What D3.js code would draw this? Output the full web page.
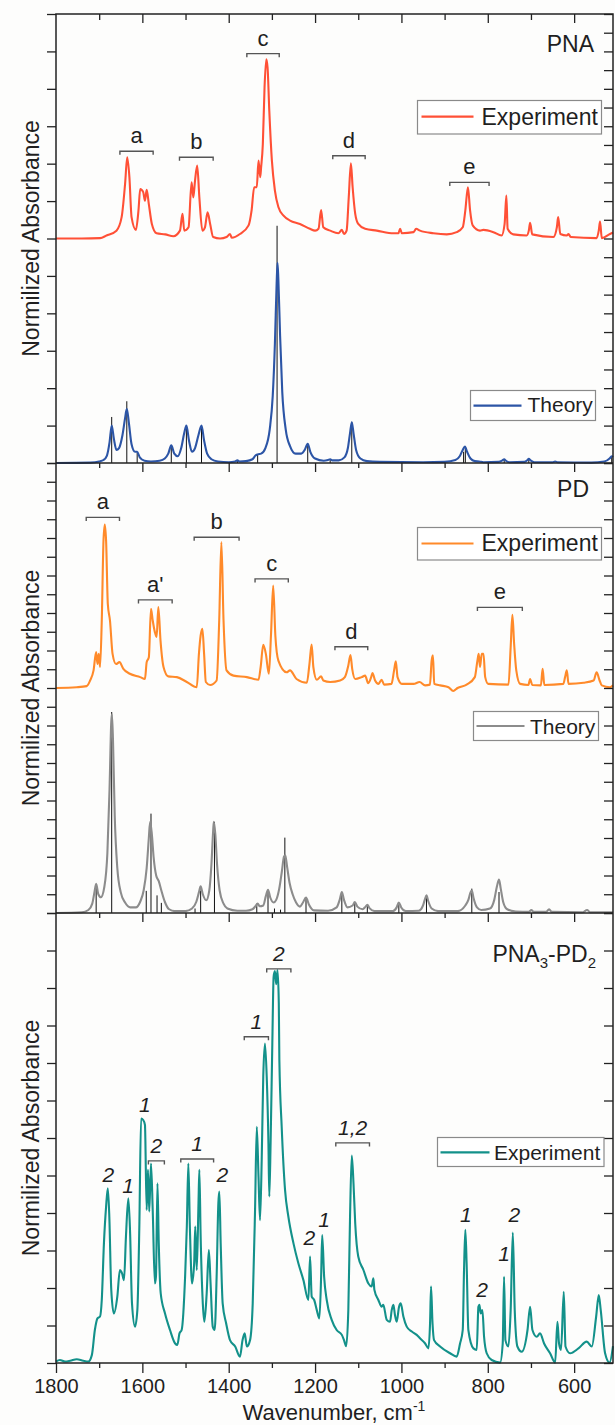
<!DOCTYPE html>
<html><head><meta charset="utf-8">
<script src="https://cdn.jsdelivr.net/npm/d3@7"></script>
<style>
body{margin:0;background:#fdfdfc;}
svg{display:block;}
text{font-family:"Liberation Sans",Arial,sans-serif;fill:#1f1f1f;}
</style>
</head><body>
<svg id="chart" width="615" height="1425"></svg>
<script>
// ---------- DATA (wavenumber cm-1, normalized absorbance) ----------
const xMajorTicks = [1800,1600,1400,1200,1000,800,600];
const xMinorTicks = [1700,1500,1300,1100,900,700];

const pnaExp = [[1800,0],[1740,0],[1698,0.01],[1683,0.08],[1660,0.21],[1648,0.57],[1640,1.46],[1635,2.17],[1630,1.64],[1625,0.57],[1615,0.23],[1609,0.75],[1605,1.32],[1598,1.24],[1594,1.01],[1590,1.30],[1585,0.92],[1578,0.39],[1567,0.14],[1547,0.11],[1528,0.06],[1513,0.21],[1507,0.66],[1503,0.21],[1493,0.30],[1486,1.50],[1482,1.10],[1478,1.55],[1473,1.95],[1468,1.10],[1461,0.21],[1455,0.30],[1449,0.70],[1443,0.39],[1436,0.04],[1420,0],[1405,0.04],[1397,0.12],[1393,0.02],[1374,0.12],[1354,0.35],[1347,0.75],[1341,1.37],[1335,1.37],[1331,2.08],[1327,1.64],[1325,1.90],[1321,2.52],[1317,4.04],[1313,4.79],[1310,4.57],[1306,3.41],[1300,2.08],[1293,1.28],[1285,0.84],[1273,0.61],[1258,0.48],[1235,0.39],[1212,0.26],[1200,0.21],[1192,0.26],[1186,0.76],[1181,0.30],[1165,0.21],[1146,0.14],[1138,0.23],[1133,0.12],[1127,0.21],[1122,1.1],[1117,2.01],[1113,1.37],[1107,0.66],[1100,0.39],[1084,0.26],[1057,0.21],[1018,0.14],[1007,0.14],[1003,0.26],[999,0.14],[972,0.17],[966,0.26],[957,0.21],[926,0.14],[895,0.11],[872,0.17],[858,0.30],[852,0.75],[846,1.37],[841,0.75],[835,0.35],[818,0.21],[810,0.23],[787,0.17],[768,0.08],[761,0.39],[757,1.15],[754,0.26],[741,0.11],[710,0.08],[705,0.21],[702,0.42],[697,0.11],[648,0.04],[640,0.30],[637,0.57],[632,0.12],[617,0.08],[613,0.12],[608,0.04],[548,0.01],[543,0.21],[540,0.45],[536,0.01],[517,0.12],[510,0.16]];

const pnaTheory = [[1800,0],[1720,0.01],[1700,0.04],[1690,0.08],[1682,0.2],[1676,0.55],[1671,1.0],[1666,0.65],[1660,0.35],[1654,0.4],[1646,0.75],[1640,1.2],[1636,1.45],[1631,1.05],[1625,0.5],[1617,0.3],[1612,0.3],[1606,0.15],[1595,0.06],[1580,0.04],[1560,0.06],[1548,0.12],[1540,0.25],[1533,0.47],[1526,0.25],[1518,0.18],[1510,0.4],[1503,0.8],[1498,1.0],[1492,0.6],[1485,0.3],[1478,0.4],[1470,0.75],[1463,1.0],[1457,0.6],[1450,0.25],[1440,0.1],[1425,0.04],[1400,0.02],[1385,0.04],[1380,0.07],[1375,0.04],[1360,0.05],[1345,0.1],[1338,0.2],[1333,0.23],[1325,0.25],[1315,0.4],[1305,0.9],[1298,1.8],[1293,3.2],[1289,4.8],[1287,5.35],[1285,4.9],[1281,3.4],[1276,1.9],[1268,0.9],[1258,0.45],[1245,0.25],[1232,0.25],[1224,0.35],[1217,0.51],[1211,0.3],[1200,0.12],[1180,0.06],[1170,0.08],[1165,0.1],[1160,0.07],[1145,0.07],[1132,0.15],[1124,0.4],[1119,0.8],[1115,1.09],[1111,0.8],[1105,0.35],[1095,0.12],[1080,0.05],[1050,0.03],[950,0.02],[900,0.03],[875,0.08],[865,0.18],[858,0.35],[853,0.44],[848,0.3],[840,0.12],[830,0.05],[820,0.04],[810,0.02],[775,0.03],[766,0.07],[762,0.1],[758,0.06],[750,0.02],[715,0.03],[708,0.08],[705,0.11],[701,0.07],[692,0.02],[650,0.02],[644,0.04],[638,0.02],[560,0.01],[530,0.04],[518,0.12],[513,0.18],[510,0.16]];

const pnaSticks = [[1671,1.23],[1636,1.65],[1612,0.27],[1533,0.47],[1498,1.0],[1463,0.96],[1380,0.07],[1333,0.23],[1288,6.34],[1217,0.51],[1165,0.1],[1115,1.1],[856,0.3],[852,0.44],[762,0.1],[705,0.11],[513,0.18]];

const pdExp = [[1800,0],[1752,0.02],[1729,0.05],[1721,0.2],[1713,0.47],[1707,0.96],[1704,0.64],[1701,0.91],[1698,0.56],[1694,1.8],[1690,3.93],[1687,4.36],[1684,3.93],[1680,2.24],[1675,1.8],[1669,0.91],[1661,0.64],[1653,0.69],[1644,0.51],[1629,0.38],[1605,0.29],[1594,0.24],[1590,0.69],[1585,0.82],[1580,2.11],[1576,1.8],[1571,1.49],[1567,1.36],[1563,2.16],[1558,1.27],[1551,0.56],[1540,0.31],[1520,0.29],[1497,0.16],[1474,0.02],[1469,0.91],[1465,1.4],[1461,1.58],[1457,0.91],[1453,0.16],[1443,0.08],[1428,0.2],[1422,1.8],[1417,3.89],[1412,1.8],[1405,0.47],[1389,0.33],[1358,0.29],[1331,0.22],[1326,0.56],[1320,1.15],[1314,0.91],[1307,0.38],[1302,1.44],[1297,2.73],[1292,1.4],[1285,0.73],[1266,0.42],[1258,0.47],[1243,0.24],[1219,0.14],[1213,0.64],[1208,1.16],[1204,0.56],[1196,0.22],[1186,0.31],[1181,0.2],[1165,0.16],[1142,0.2],[1131,0.29],[1123,0.6],[1118,0.88],[1114,0.51],[1107,0.24],[1092,0.29],[1084,0.33],[1077,0.13],[1070,0.29],[1067,0.4],[1061,0.2],[1053,0.11],[1046,0.22],[1040,0.09],[1023,0.11],[1017,0.47],[1013,0.71],[1009,0.29],[999,0.11],[972,0.11],[958,0.16],[945,0.07],[934,0.09],[930,0.73],[927,0.87],[924,0.11],[910,0.07],[891,0.02],[880,-0.08],[870,0],[849,0.09],[830,0.29],[824,0.73],[821,0.91],[818,0.56],[814,0.91],[810,0.91],[806,0.29],[799,0.11],[752,0.09],[747,1.09],[743,1.95],[739,1.18],[734,0.47],[725,0.11],[706,0.08],[702,0.24],[697,0.08],[677,0.07],[673,0.51],[669,0.08],[625,0.11],[621,0.29],[617,0.47],[613,0.11],[578,0.14],[555,0.2],[548,0.42],[541,0.2],[536,0.07],[517,0.02],[510,0.07]];

const pdTheory = [[1800,0],[1740,0.02],[1725,0.08],[1716,0.25],[1711,0.55],[1707,0.78],[1702,0.5],[1696,0.42],[1688,0.7],[1681,1.6],[1676,3.3],[1672,5.1],[1670.5,5.3],[1668,4.6],[1664,2.6],[1658,1.2],[1650,0.55],[1640,0.28],[1628,0.15],[1615,0.15],[1605,0.3],[1597,0.6],[1590,1.2],[1585,2.0],[1582,2.43],[1578,2.1],[1574,1.5],[1568,1.0],[1562,0.85],[1556,0.6],[1548,0.3],[1538,0.1],[1525,0.05],[1500,0.05],[1485,0.12],[1475,0.3],[1469,0.55],[1465,0.71],[1460,0.5],[1452,0.34],[1445,0.6],[1440,1.3],[1436,2.2],[1434.5,2.43],[1431,2.1],[1427,1.3],[1421,0.6],[1412,0.25],[1403,0.12],[1380,0.06],[1360,0.06],[1345,0.1],[1338,0.18],[1333,0.25],[1328,0.18],[1320,0.2],[1314,0.45],[1309,0.62],[1304,0.42],[1296,0.28],[1290,0.35],[1283,0.65],[1277,1.1],[1272,1.5],[1269,1.54],[1265,1.25],[1259,0.8],[1252,0.5],[1244,0.28],[1235,0.17],[1228,0.28],[1221,0.41],[1214,0.22],[1203,0.07],[1170,0.06],[1150,0.15],[1143,0.35],[1138,0.56],[1133,0.35],[1125,0.15],[1113,0.2],[1108,0.29],[1102,0.17],[1090,0.1],[1083,0.17],[1079,0.22],[1074,0.13],[1062,0.05],[1020,0.05],[1011,0.15],[1006,0.28],[1000,0.14],[990,0.05],[960,0.06],[950,0.2],[946,0.35],[942,0.47],[938,0.32],[930,0.12],[915,0.05],[870,0.05],[852,0.2],[845,0.35],[840,0.55],[837,0.6],[833,0.4],[825,0.15],[815,0.08],[795,0.12],[785,0.35],[779,0.7],[774,0.89],[770,0.65],[764,0.28],[755,0.1],[735,0.04],[705,0.03],[699,0.08],[694,0.03],[665,0.03],[658,0.1],[652,0.03],[580,0.02],[570,0.08],[563,0.02],[510,0.02]];

const pdSticks = [[1707,0.69],[1671,5.36],[1591,0.59],[1580,2.65],[1566,0.47],[1556,0.27],[1478,0.12],[1465,0.6],[1433,2.43],[1335,0.25],[1309,0.6],[1294,0.12],[1280,0.09],[1270,2.01],[1221,0.38],[1138,0.52],[1108,0.29],[1079,0.2],[1006,0.23],[942,0.42],[837,0.65],[774,0.56]];

const mixExp = [[1800,0.04],[1791,0.08],[1779,0.04],[1767,0.06],[1752,0.1],[1737,0.06],[1725,0.04],[1717,0.21],[1710,0.88],[1704,1.19],[1698,1.24],[1694,1.68],[1689,3.19],[1684,4.17],[1680,4.66],[1676.5,3.9],[1672,1.95],[1666,1.32],[1658,1.77],[1652,2.48],[1647,2.39],[1642.5,2.21],[1638,3.37],[1632.5,4.39],[1628.6,3.55],[1624,1.59],[1617,0.97],[1611.6,1.41],[1607,3.64],[1603,6.52],[1598,6.48],[1594,6.35],[1590,4.08],[1587,5.15],[1584,4.04],[1580,5.32],[1576,4.08],[1571,2.12],[1568.5,2.3],[1565,4.79],[1562,3.19],[1557.5,1.86],[1547.5,1.32],[1536,0.88],[1524,0.52],[1519,0.48],[1514,0.79],[1509,0.88],[1501,2.3],[1497,3.64],[1493.5,5.32],[1490,3.64],[1485,2.12],[1480,2.66],[1477.5,3.64],[1474,2.48],[1470,4.26],[1468,5.15],[1465,3.37],[1460,1.59],[1456.4,1.1],[1451,1.86],[1446,3.01],[1442,2.12],[1437,0.97],[1432.5,0.88],[1428,2.3],[1424,4.26],[1421.7,4.57],[1418.6,3.19],[1414,1.59],[1406,1.06],[1397,0.61],[1385,0.44],[1374,0.17],[1368,0.61],[1363,0.79],[1358,0.44],[1350.6,0.61],[1344.4,1.59],[1339,4.08],[1335,6.3],[1331,4.97],[1327.5,3.81],[1323.6,5.41],[1320,7.64],[1316,8.52],[1312,7.64],[1308,5.86],[1306,4.44],[1303,5.86],[1299,8.52],[1296,10.3],[1293,10.45],[1290,10.1],[1287,10.48],[1284,9.6],[1282.7,8.08],[1277.3,6.3],[1269.5,4.61],[1261.8,3.9],[1250,3.19],[1238.7,2.66],[1227,2.21],[1215.5,1.68],[1211.6,2.84],[1207.8,1.77],[1202,1.68],[1196,1.41],[1190,1.19],[1186,2.3],[1183.5,3.41],[1179,2.3],[1173,1.68],[1161.5,1.15],[1150,0.88],[1138,0.75],[1133,0.61],[1128,0.45],[1123,1.41],[1119,3.9],[1115,5.53],[1111,4.79],[1107,3.72],[1100,2.84],[1088,2.48],[1076.5,2.12],[1069,2.04],[1065,2.26],[1062.6,1.95],[1053.4,1.68],[1045.7,1.5],[1042,1.55],[1034,1.15],[1026.4,1.1],[1022.5,1.41],[1018.6,1.55],[1015,1.28],[1011,1.1],[1005.5,1.5],[1001.6,1.59],[995.5,1.24],[987.7,0.97],[976,0.84],[964.6,0.75],[957,0.66],[945,0.52],[937.5,0.39],[933.7,1.06],[931.4,2.04],[928,1.06],[924.4,0.61],[910.5,0.44],[887.4,0.26],[872,0.17],[864.2,0.52],[858,0.88],[855,2.48],[852,3.55],[849,2.66],[845,0.88],[833.3,0.39],[825.6,0.35],[821.7,1.5],[819.4,1.55],[816.3,1.32],[812.5,1.41],[808.6,0.7],[802.5,0.26],[791,0.08],[771.5,0.01],[765.4,0.52],[762.3,2.3],[759.2,0.61],[752.3,0.44],[747,1.41],[742,3.48],[737.6,1.41],[731.4,0.44],[721.4,0.3],[708,0.88],[702,1.5],[696.6,0.88],[686.6,0.7],[679,0.79],[669.6,0.52],[655.7,0.26],[644,0.01],[638.7,1.1],[635,0.52],[630.3,0.35],[624,1.9],[620,0.44],[609.4,0.26],[590,0.39],[570.8,0.57],[559,0.44],[549,1.24],[543,1.81],[538.4,1.41],[528.3,0.26],[518,0.01],[510,0.45]];

const pnaMarks = [
  {t:"a", w0:1652, w1:1575, v:8.33},
  {t:"b", w0:1514, w1:1436, v:8.17},
  {t:"c", w0:1358, w1:1283, v:10.94},
  {t:"d", w0:1159, w1:1084, v:8.21},
  {t:"e", w0:888,  w1:797,  v:7.5}
];
const pdMarks = [
  {t:"a",  w0:1730, w1:1653, v:10.55},
  {t:"a'", w0:1609, w1:1531, v:8.35},
  {t:"b",  w0:1480, w1:1376, v:10.02},
  {t:"c",  w0:1339, w1:1262, v:8.91},
  {t:"d",  w0:1154, w1:1078, v:7.1},
  {t:"e",  w0:824,  w1:720,  v:8.15}
];
const mixBracketMarks = [
  {t:"2",   w0:1586, w1:1549, v:5.39},
  {t:"1",   w0:1511, w1:1435, v:5.44},
  {t:"1",   w0:1364, w1:1308, v:8.7},
  {t:"2",   w0:1312, w1:1256, v:10.51},
  {t:"1,2", w0:1152, w1:1074, v:5.87}
];
const mixPlainMarks = [
  {t:"2", w:1679, v:4.83},{t:"1", w:1633, v:4.54},{t:"1", w:1594, v:6.7},
  {t:"2", w:1415, v:4.83},{t:"2", w:1213, v:3.15},{t:"1", w:1179, v:3.63},
  {t:"1", w:851, v:3.77},{t:"2", w:813, v:1.75},{t:"1", w:762, v:2.73},
  {t:"2", w:738.5, v:3.77}
];

// ---------- LAYOUT ----------
const svg = d3.select("#chart");
const L = 56, R = 613;
const x = d3.scaleLinear().domain([1800, 510]).range([L, R]);
const panels = [[14,463],[463,913],[913,1363]];
const yS = panels.map(p => d3.scaleLinear().domain([0,12]).range([p[1], p[0]]));
const expOffset = 6;

const C = {pnaExp:"#ff5036", pnaTh:"#2c55a6", pdExp:"#ff8a2a", pdTh:"#8c8c8c", mix:"#13918a", stick:"#111", axis:"#222", br:"#555"};

function drawLine(data, y, off, color, w) {
  const gen = d3.line().x(d => x(d[0])).y(d => y(d[1] + off)).curve(d3.curveMonotoneX);
  svg.append("path").datum(data).attr("d", gen).attr("fill","none")
    .attr("stroke", color).attr("stroke-width", w).attr("stroke-linejoin","round");
}
function drawSticks(data, y) {
  svg.append("g").selectAll("line").data(data).join("line")
    .attr("x1", d => x(d[0])).attr("x2", d => x(d[0]))
    .attr("y1", y(0)).attr("y2", d => y(d[1]))
    .attr("stroke", C.stick).attr("stroke-width", 1);
}

// sticks first, curves on top
drawSticks(pnaSticks, yS[0]);
drawLine(pnaTheory, yS[0], 0, C.pnaTh, 2.1);
drawLine(pnaExp, yS[0], expOffset, C.pnaExp, 2.1);
drawSticks(pdSticks, yS[1]);
drawLine(pdTheory, yS[1], 0, C.pdTh, 2.1);
drawLine(pdExp, yS[1], expOffset, C.pdExp, 2.1);
drawLine(mixExp, yS[2], 0, C.mix, 2.1);

// ---------- AXES ----------
function xAxis(yPos, vals, size, labels) {
  const ax = d3.axisBottom(x).tickValues(vals).tickSize(size).tickSizeOuter(0);
  if (labels) ax.tickFormat(d3.format("d")).tickPadding(6); else ax.tickFormat("");
  const g = svg.append("g").attr("transform", `translate(0,${yPos})`).call(ax);
  g.select(".domain").remove();
  g.selectAll("line").attr("stroke", C.axis).attr("stroke-width", 1.3);
  g.selectAll("text").attr("font-size", 20).attr("fill", "#1f1f1f")
    .attr("font-family", '"Liberation Sans",Arial,sans-serif');
}
xAxis(14, xMajorTicks.slice(1), 9, false);
xAxis(14, xMinorTicks, 6, false);
xAxis(463, xMajorTicks.slice(1), 9, false);
xAxis(463, xMinorTicks, 5, false);
xAxis(913, xMajorTicks.slice(1), 9, false);
xAxis(913, xMinorTicks, 5, false);
xAxis(1363, xMajorTicks, 10, true);
xAxis(1363, xMinorTicks, 5, false);

function yAxis(scale, step, xPos) {
  const ax = d3.axisLeft(scale).tickValues(d3.range(0, 12.001, step)).tickSize(9).tickFormat("").tickSizeOuter(0);
  const g = svg.append("g").attr("transform", `translate(${xPos},0)`).call(ax);
  g.select(".domain").remove();
  g.selectAll("line").attr("stroke", C.axis).attr("stroke-width", 1.3);
}
yAxis(yS[0], 1, L);   yAxis(yS[0], 0.5, R);
yAxis(yS[1], 0.5, L); yAxis(yS[1], 0.5, R);
yAxis(yS[2], 1, L);   yAxis(yS[2], 1, R);

// frame
const fr = svg.append("g").attr("stroke", C.axis).attr("stroke-width", 1.5).attr("fill","none");
fr.append("rect").attr("x", L).attr("y", 14).attr("width", R - L).attr("height", 1363 - 14);
[463, 913].forEach(yy => fr.append("line").attr("x1", L).attr("x2", R).attr("y1", yy).attr("y2", yy));

// ---------- LABELS ----------
panels.forEach(p => {
  svg.append("text").attr("transform", `translate(39,${(p[0]+p[1])/2}) rotate(-90)`)
    .attr("text-anchor","middle").attr("font-size", 23).text("Normilized Absorbance");
});
const xl = svg.append("text").attr("x", 334).attr("y", 1420).attr("text-anchor","middle").attr("font-size", 22);
xl.append("tspan").text("Wavenumber, cm");
xl.append("tspan").attr("dy", -9).attr("font-size", 14).text("-1");

svg.append("text").attr("x", 594).attr("y", 52).attr("text-anchor","end").attr("font-size", 23).text("PNA");
svg.append("text").attr("x", 589).attr("y", 497).attr("text-anchor","end").attr("font-size", 23).text("PD");
const mt = svg.append("text").attr("x", 596).attr("y", 962).attr("text-anchor","end").attr("font-size", 23);
mt.append("tspan").text("PNA");
mt.append("tspan").attr("dy", 6).attr("font-size", 15).text("3");
mt.append("tspan").attr("dy", -6).text("-PD");
mt.append("tspan").attr("dy", 6).attr("font-size", 15).text("2");

// legends
function legend(bx0, by0, bx1, by1, lx0, lx1, ly, tx, ty, fs, color, label) {
  svg.append("rect").attr("x", bx0).attr("y", by0).attr("width", bx1 - bx0).attr("height", by1 - by0)
    .attr("fill", "#ffffff").attr("stroke", "#8a8a8a").attr("stroke-width", 1.2);
  svg.append("line").attr("x1", lx0).attr("x2", lx1).attr("y1", ly).attr("y2", ly)
    .attr("stroke", color).attr("stroke-width", 2.2);
  svg.append("text").attr("x", tx).attr("y", ty).attr("font-size", fs).text(label);
}
legend(417.5, 100.5, 601.5, 134, 421.5, 473.5, 116.7, 481.5, 124.5, 23, C.pnaExp, "Experiment");
legend(470.5, 390.5, 595.5, 420.5, 473.5, 521.5, 405.7, 527.5, 412, 21, C.pnaTh, "Theory");
legend(417.5, 527.5, 601.5, 560, 421.5, 473.5, 543.5, 481.5, 551, 23, C.pdExp, "Experiment");
legend(473.5, 711.5, 598.5, 740.5, 476.5, 524.5, 726, 530, 734, 21, C.pdTh, "Theory");
legend(437.5, 1137.5, 604, 1166.5, 440.5, 489.5, 1152.3, 494, 1159.5, 21, C.mix, "Experiment");

// bracket annotations
function brackets(marks, y, italic, fs) {
  marks.forEach(m => {
    const x0 = x(m.w0), x1 = x(m.w1), yy = y(m.v);
    svg.append("path").attr("d", `M${x0},${yy+3.5}V${yy}H${x1}V${yy+3.5}`)
      .attr("fill","none").attr("stroke", C.br).attr("stroke-width", 1.4);
    svg.append("text").attr("x", (x0 + x1) / 2).attr("y", yy - 8).attr("text-anchor","middle")
      .attr("font-size", fs).attr("font-style", italic ? "italic" : "normal").text(m.t);
  });
}
brackets(pnaMarks, yS[0], false, 22);
brackets(pdMarks, yS[1], false, 22);
brackets(mixBracketMarks, yS[2], true, 21);
mixPlainMarks.forEach(m => {
  svg.append("text").attr("x", x(m.w)).attr("y", yS[2](m.v)).attr("text-anchor","middle")
    .attr("font-size", 21).attr("font-style","italic").text(m.t);
});
</script>
</body></html>
